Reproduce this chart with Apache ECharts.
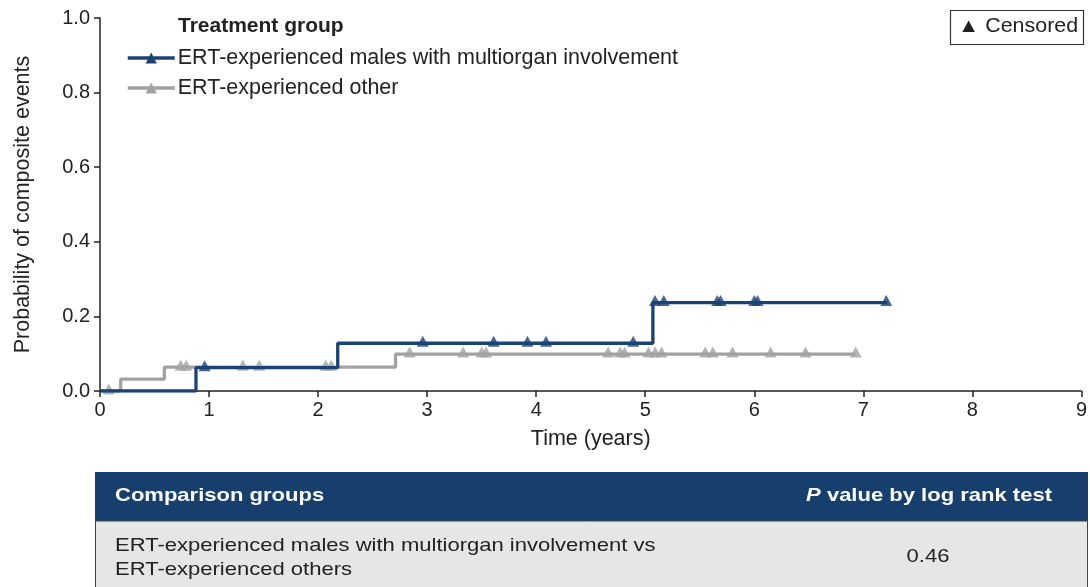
<!DOCTYPE html>
<html>
<head>
<meta charset="utf-8">
<script src="https://cdn.jsdelivr.net/npm/echarts@6/dist/echarts.min.js"></script>
<style>
html,body{margin:0;padding:0;background:#fff;}
#chart{width:1090px;height:587px;}
</style>
</head>
<body>
<div id="chart"></div>
<script>
// ---- data ----
var seriesNames = ['ERT-experienced males with multiorgan involvement', 'ERT-experienced other'];
var blueStepT = [0, 0.88, 2.18, 5.07, 7.22];
var blueStepP = [0, 0.0625, 0.128, 0.237, 0.237];
var grayStepT = [0, 0.19, 0.59, 2.71, 6.93];
var grayStepP = [0, 0.032, 0.064, 0.099, 0.099];
var blueCensT = [0.96, 2.96, 3.61, 3.92, 4.09, 4.89, 5.09, 5.17, 5.66, 5.69, 6.00, 6.03, 7.21];
var blueCensP = [0.0625, 0.128, 0.128, 0.128, 0.128, 0.128, 0.237, 0.237, 0.237, 0.237, 0.237, 0.237, 0.237];
var grayCensT = [0.08, 0.74, 0.79, 1.31, 1.46, 2.07, 2.12, 2.84, 3.33, 3.50, 3.54, 4.66, 4.77, 4.81, 5.03, 5.09, 5.15, 5.55, 5.62, 5.80, 6.15, 6.47, 6.93];
var grayCensP = [0, 0.064, 0.064, 0.064, 0.064, 0.064, 0.064, 0.099, 0.099, 0.099, 0.099, 0.099, 0.099, 0.099, 0.099, 0.099, 0.099, 0.099, 0.099, 0.099, 0.099, 0.099, 0.099];
var xTicks = [0, 1, 2, 3, 4, 5, 6, 7, 8, 9];
var yTicks = [0, 0.2, 0.4, 0.6, 0.8, 1.0];
var tableHeader = ['Comparison groups', 'P value by log rank test'];
var tableRowLines = ['ERT-experienced males with multiorgan involvement vs', 'ERT-experienced others'];
var tablePValue = '0.46';

// ---- chart ----
var FONT = '"Liberation Sans", Arial, sans-serif';
var BLUE = '#1b4274';
var GRAY = '#a2a2a2';
var AXIS = '#222222';
var SX = 1.19; // horizontal text stretch seen in the reference

function zip(a, b) { return a.map(function (v, i) { return [v, b[i]]; }); }

var chart = echarts.init(document.getElementById('chart'), null, { renderer: 'canvas' });
var option = {
  animation: false,
  textStyle: { fontFamily: FONT },
  grid: { left: 100, right: 5, top: 18, bottom: 196, containLabel: false },
  xAxis: {
    type: 'value', min: xTicks[0], max: xTicks[xTicks.length - 1], interval: 1,
    name: 'Time (years)', nameLocation: 'middle', nameGap: 37,
    nameTextStyle: { fontSize: 21.5, color: AXIS, fontFamily: FONT },
    axisLine: { onZero: false, lineStyle: { color: AXIS, width: 1.5 } },
    axisTick: { show: true, length: 6, lineStyle: { color: AXIS, width: 1.5 } },
    axisLabel: { fontSize: 20, color: AXIS, margin: 9, fontFamily: FONT },
    splitLine: { show: false }
  },
  yAxis: {
    type: 'value', min: yTicks[0], max: yTicks[yTicks.length - 1], interval: 0.2,
    name: 'Probability of composite events', nameLocation: 'middle', nameGap: 66,
    nameTextStyle: { fontSize: 21.5, color: AXIS, fontFamily: FONT },
    axisLine: { show: true, lineStyle: { color: AXIS, width: 1.5 } },
    axisTick: { show: true, length: 6, lineStyle: { color: AXIS, width: 1.5 } },
    axisLabel: { fontSize: 20, color: AXIS, margin: 10, fontFamily: FONT, formatter: function (v) { return v.toFixed(1); } },
    splitLine: { show: false }
  },
  legend: {
    orient: 'vertical', left: 121, top: 42, itemGap: 8,
    itemWidth: 47, itemHeight: 14,
    lineStyle: { width: 3.5 },
    data: [seriesNames[0], seriesNames[1]],
    textStyle: { fontSize: 21.5, lineHeight: 22, color: AXIS, fontFamily: FONT, padding: [0, 0, 0, -2] }
  },
  series: [
    {
      name: seriesNames[1], type: 'line', step: 'end', data: zip(grayStepT, grayStepP),
      symbol: 'triangle', symbolSize: 13, showSymbol: false,
      lineStyle: { color: GRAY, width: 3.3 }, itemStyle: { color: GRAY }, z: 2
    },
    {
      name: seriesNames[1] + ' censored', type: 'scatter', data: zip(grayCensT, grayCensP),
      symbol: 'triangle', symbolSize: [12, 11], symbolOffset: [0, -2],
      itemStyle: { color: GRAY }, z: 3
    },
    {
      name: seriesNames[0], type: 'line', step: 'end', data: zip(blueStepT, blueStepP),
      symbol: 'triangle', symbolSize: 13, showSymbol: false,
      lineStyle: { color: BLUE, width: 3.3 }, itemStyle: { color: BLUE }, z: 4
    },
    {
      name: seriesNames[0] + ' censored', type: 'scatter', data: zip(blueCensT, blueCensP),
      symbol: 'triangle', symbolSize: [12, 11], symbolOffset: [0, -2],
      itemStyle: { color: BLUE }, z: 5
    }
  ],
  graphic: [
    { type: 'text', x: 178, y: 16, style: { text: 'Treatment group', font: 'bold 21px ' + FONT, fill: AXIS } },
    { type: 'rect', shape: { x: 950.5, y: 10.5, width: 133, height: 34 }, style: { fill: '#fff', stroke: '#333', lineWidth: 1.2 } },
    { type: 'text', x: 958, y: 17, scaleX: 1.1, style: { text: '\u25B2 Censored', font: '19.5px ' + FONT, fill: AXIS } },
    // table
    { type: 'rect', shape: { x: 95, y: 472, width: 993, height: 49 }, style: { fill: '#173f6d' } },
    { type: 'rect', shape: { x: 95.5, y: 521, width: 992, height: 70 }, style: { fill: '#e6e6e6', stroke: '#444', lineWidth: 1 } },
    { type: 'text', x: 115, y: 486, scaleX: SX, style: { text: tableHeader[0], font: 'bold 18.5px ' + FONT, fill: '#fff' } },
    { type: 'text', x: 1052, y: 486, scaleX: SX, style: {
        text: '{i|P}{b| value by log rank test}', align: 'right',
        rich: { i: { font: 'italic bold 18.5px ' + FONT, fill: '#fff' }, b: { font: 'bold 18.5px ' + FONT, fill: '#fff' } },
        font: 'bold 18.5px ' + FONT, fill: '#fff' } },
    { type: 'text', x: 115, y: 534, scaleX: SX, style: { text: tableRowLines[0] + '\n' + tableRowLines[1], font: '18.5px ' + FONT, fill: AXIS, lineHeight: 24 } },
    { type: 'text', x: 928, y: 547, scaleX: SX, style: { text: tablePValue, font: '18.5px ' + FONT, fill: AXIS, align: 'center' } }
  ]
};
chart.setOption(option);
</script>
</body>
</html>
